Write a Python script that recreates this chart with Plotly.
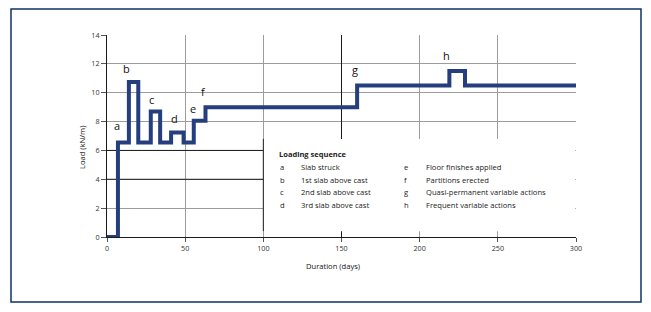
import plotly.graph_objects as go

# Data
days = [0, 7, 14, 20, 28, 34, 41, 49, 55.5, 63, 160, 219, 229, 300]
load = [0, 6.55, 10.75, 6.55, 8.7, 6.55, 7.25, 6.55, 8.05, 9.0, 10.5, 11.5, 10.5, 10.5]

step_labels = ["a", "b", "c", "d", "e", "f", "g", "h"]
step_label_x = [6.2, 12.6, 28.6, 42.9, 54.8, 61.6, 158.7, 217.3]
step_label_y = [7.7, 11.7, 9.5, 8.2, 8.9, 10.1, 11.6, 12.6]

legend_title = "Loading sequence"
legend_col1 = [("a", "Slab struck"), ("b", "1st slab above cast"),
               ("c", "2nd slab above cast"), ("d", "3rd slab above cast")]
legend_col2 = [("e", "Floor finishes applied"), ("f", "Partitions erected"),
               ("g", "Quasi-permanent variable actions"), ("h", "Frequent variable actions")]

x_ticks = [0, 50, 100, 150, 200, 250, 300]
y_ticks = [0, 2, 4, 6, 8, 10, 12, 14]

FONT = "Open Sans"
LINE = "#243e7e"

fig = go.Figure()
fig.add_trace(go.Scatter(x=days, y=load, mode="lines", line=dict(color=LINE, width=4, shape="hv"),
                         hoverinfo="skip", showlegend=False))

shapes = []
# outer frame
shapes.append(dict(type="rect", xref="paper", yref="paper", x0=-0.2047, x1=1.1386, y0=-0.3218, y1=1.1287,
                   line=dict(color="#0f3366", width=1.5), fillcolor="rgba(0,0,0,0)", layer="above"))
# darker gridlines
shapes.append(dict(type="line", xref="x", yref="y", x0=150, x1=150, y0=0, y1=14,
                   line=dict(color="#1a1a1a", width=1), layer="between"))
for yv in [4, 6]:
    shapes.append(dict(type="line", xref="x", yref="y", x0=0, x1=100, y0=yv, y1=yv,
                       line=dict(color="#1a1a1a", width=1), layer="between"))
# legend box
shapes.append(dict(type="rect", xref="x", yref="y", x0=100, x1=299.5, y0=0.4, y1=6.8,
                   fillcolor="white", line=dict(width=0), layer="between"))
shapes.append(dict(type="line", xref="x", yref="y", x0=100, x1=100, y0=0.4, y1=6.8,
                   line=dict(color="#1a1a1a", width=1), layer="between"))

ann = []
for t, x, y in zip(step_labels, step_label_x, step_label_y):
    ann.append(dict(text=t, x=x, y=y, xref="x", yref="y", showarrow=False,
                    font=dict(family=FONT, size=11, color="#111")))

ann.append(dict(text="<b>" + legend_title + "</b>", x=108.7, y=5.75, xref="x", yref="y", showarrow=False,
                xanchor="left", font=dict(family=FONT, size=7.5, color="#222")))
row_y = [4.85, 3.95, 3.12, 2.22]
for (l1, d1), (l2, d2), ry in zip(legend_col1, legend_col2, row_y):
    for txt, xx in [(l1, 109.6), (d1, 123), (l2, 188.5), (d2, 202.8)]:
        ann.append(dict(text=txt, x=xx, y=ry, xref="x", yref="y", showarrow=False, xanchor="left",
                        font=dict(family=FONT, size=7.6, color="#222")))

ann.append(dict(text="Duration (days)", x=(333 - 107) / 469, y=(237 - 273) / 202, xref="paper", yref="paper",
                showarrow=False, font=dict(family=FONT, size=7.6, color="#111")))
ann.append(dict(text="Load (kN/m)", x=(75 - 107) / 469, y=(237 - 148) / 202, xref="paper", yref="paper",
                showarrow=False, textangle=-90, font=dict(family=FONT, size=7.6, color="#111")))

fig.update_layout(
    width=651, height=312,
    margin=dict(l=107, r=75, t=35, b=75),
    paper_bgcolor="white", plot_bgcolor="white",
    showlegend=False,
    shapes=shapes, annotations=ann,
    xaxis=dict(range=[0, 300], tickvals=x_ticks, showgrid=True, gridcolor="#9c9c9c", gridwidth=1,
               zeroline=False, showline=True, linecolor="#1a1a1a", linewidth=1,
               ticks="outside", ticklen=4, tickcolor="#555",
               tickfont=dict(family=FONT, size=7.2, color="#333")),
    yaxis=dict(range=[0, 14], tickvals=y_ticks, showgrid=True, gridcolor="#9c9c9c", gridwidth=1,
               zeroline=False, showline=True, linecolor="#1a1a1a", linewidth=1,
               ticks="outside", ticklen=5, tickcolor="#555",
               tickfont=dict(family=FONT, size=7.2, color="#333")),
)

fig.write_html("out.html")
